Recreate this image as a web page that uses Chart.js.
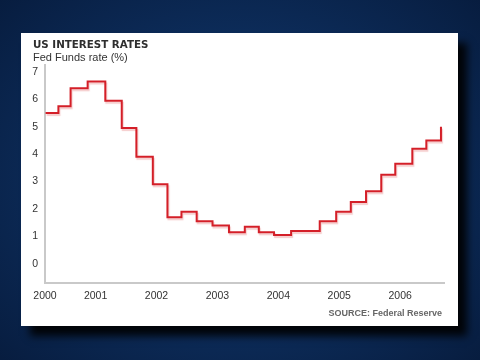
<!DOCTYPE html>
<html>
<head>
<meta charset="utf-8">
<script src="https://cdn.jsdelivr.net/npm/chart.js@4/dist/chart.umd.min.js"></script>
<style>
  html, body { margin: 0; padding: 0; width: 480px; height: 360px; overflow: hidden; }
  body { background: radial-gradient(ellipse 70% 75% at 50% 50%, #133b6e 0%, #0c2b58 55%, #071c3e 100%); position: relative; }
  #panel { position: absolute; left: 21px; top: 33px; width: 437px; height: 293px; background: #fff;
           box-shadow: 9px 10px 8px rgba(0,0,0,0.9); }
  #title { position: absolute; left: 12px; top: 5px; font: bold 10.3px "DejaVu Sans", Verdana, sans-serif; color: #2e2e2e; }
  #subtitle { position: absolute; left: 12px; top: 18px; font: 11px "Liberation Sans", Arial, sans-serif; color: #333; }
  #source { position: absolute; right: 16px; top: 275px; font: bold 9px "Liberation Sans", Arial, sans-serif; color: #666; }
  canvas { position: absolute; left: 0; top: 0; }
</style>
</head>
<body>
<div id="panel">
  <canvas id="c" width="437" height="293"></canvas>
  <div id="title">US INTEREST RATES</div>
  <div id="subtitle">Fed Funds rate (%)</div>
  <div id="source">SOURCE: Federal Reserve</div>
</div>
<script>
// Step start positions (decimal years) and Fed Funds rate (%) for each step
const stepYears = [2000.18, 2000.39, 2000.59, 2000.87, 2001.16, 2001.43, 2001.67, 2001.94,
                   2002.18, 2002.41, 2002.66, 2002.92, 2003.19, 2003.45, 2003.68, 2003.93,
                   2004.21, 2004.68, 2004.95, 2005.19, 2005.44, 2005.69, 2005.92, 2006.20,
                   2006.43, 2006.67];
const rates = [5.5, 5.75, 6.4, 6.65, 5.95, 4.95, 3.9, 2.9,
               1.7, 1.9, 1.55, 1.4, 1.15, 1.35, 1.15, 1.05,
               1.2, 1.55, 1.9, 2.25, 2.65, 3.25, 3.65, 4.2,
               4.5, 5.0];
const tickYears = [2000, 2001, 2002, 2003, 2004, 2005, 2006];
const yTicks = [0, 1, 2, 3, 4, 5, 6, 7];

const points = stepYears.map((x, i) => ({ x: x, y: rates[i] }));

const shadowPlugin = {
  id: 'lineShadow',
  beforeDatasetDraw(chart) {
    const ctx = chart.ctx;
    ctx.save();
    ctx.shadowColor = 'rgba(225,110,110,0.35)';
    ctx.shadowOffsetX = 1;
    ctx.shadowOffsetY = 2;
    ctx.shadowBlur = 1;
  },
  afterDatasetDraw(chart) {
    chart.ctx.restore();
  }
};

new Chart(document.getElementById('c'), {
  type: 'line',
  data: {
    datasets: [{
      label: 'Fed Funds rate (%)',
      data: points,
      stepped: 'before',
      borderColor: '#d41f28',
      borderWidth: 2,
      pointRadius: 0,
      fill: false
    }]
  },
  options: {
    responsive: false,
    animation: false,
    events: [],
    layout: { padding: { left: 11, right: 14, top: 32, bottom: 23 } },
    plugins: { legend: { display: false }, tooltip: { enabled: false } },
    scales: {
      x: {
        type: 'linear',
        min: 2000.17,
        max: 2006.72,
        grid: { display: false, drawTicks: false },
        border: { display: true, color: '#c9c9c9', width: 2 },
        afterBuildTicks(scale) {
          scale.ticks = tickYears.map(v => ({ value: Math.max(v, scale.min) }));
        },
        afterFit(scale) {
          scale.height = 20;
          scale.paddingLeft = 0;
          scale.paddingRight = 0;
        },
        ticks: {
          padding: 7,
          maxRotation: 0,
          autoSkip: false,
          color: '#333',
          font: { family: '"Liberation Sans", Arial, sans-serif', size: 10.5 },
          callback: (v, i) => String(tickYears[i])
        }
      },
      y: {
        min: -0.7,
        max: 7.25,
        grid: { display: false, drawTicks: false },
        border: { display: true, color: '#c9c9c9', width: 2 },
        afterBuildTicks(scale) {
          scale.ticks = yTicks.map(v => ({ value: v }));
        },
        afterFit(scale) {
          scale.width = 13;
          scale.paddingTop = 0;
          scale.paddingBottom = 0;
        },
        ticks: {
          padding: 7,
          color: '#333',
          font: { family: '"Liberation Sans", Arial, sans-serif', size: 10.5 },
          callback: (v) => String(v)
        }
      }
    }
  },
  plugins: [shadowPlugin]
});
</script>
</body>
</html>
